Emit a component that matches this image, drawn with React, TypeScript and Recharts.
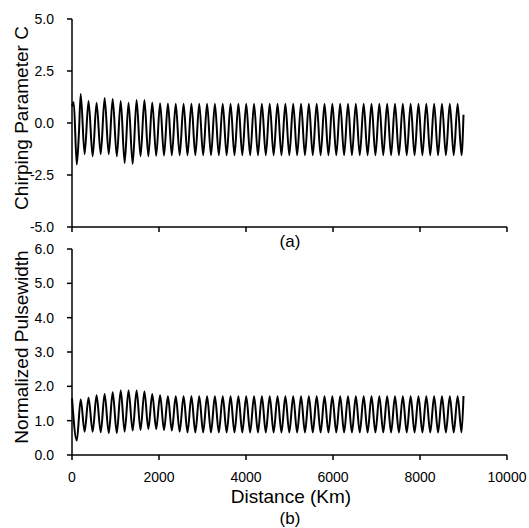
import { Line, LineChart, ReferenceLine, XAxis, YAxis } from 'recharts'

// distance (km) of each crest and each dip of the oscillation
const peakKm = [
    200, 380, 565, 750, 935, 1120, 1300, 1485, 1665, 1845,
    2025, 2205, 2385, 2565, 2745, 2925, 3105, 3285, 3465, 3645,
    3825, 4005, 4185, 4365, 4545, 4725, 4905, 5085, 5265, 5445,
    5625, 5805, 5985, 6165, 6345, 6525, 6705, 6885, 7065, 7245,
    7425, 7605, 7785, 7965, 8145, 8325, 8505, 8685, 8865
]
const troughKm = [
    110, 290, 475, 660, 845, 1030, 1210, 1395, 1575, 1755,
    1935, 2115, 2295, 2475, 2655, 2835, 3015, 3195, 3375, 3555,
    3735, 3915, 4095, 4275, 4455, 4635, 4815, 4995, 5175, 5355,
    5535, 5715, 5895, 6075, 6255, 6435, 6615, 6795, 6975, 7155,
    7335, 7515, 7695, 7875, 8055, 8235, 8415, 8595, 8775, 8955
]

// (a) chirping parameter C
const chirpPeaks = [
    1.40, 1.06, 0.97, 1.20, 1.15, 1.06, 0.97, 1.10, 1.10, 0.98,
    0.95, 0.94, 0.93, 0.93, 0.93, 0.93, 0.93, 0.93, 0.93, 0.93,
    0.93, 0.93, 0.93, 0.93, 0.93, 0.93, 0.93, 0.93, 0.93, 0.93,
    0.93, 0.93, 0.93, 0.93, 0.93, 0.93, 0.93, 0.93, 0.93, 0.93,
    0.93, 0.93, 0.93, 0.93, 0.93, 0.93, 0.93, 0.93, 0.93
]
const chirpTroughs = [
    -2.00, -1.50, -1.60, -1.50, -1.50, -1.60, -1.92, -1.97, -1.60, -1.60,
    -1.58, -1.56, -1.55, -1.55, -1.55, -1.55, -1.55, -1.55, -1.55, -1.55,
    -1.55, -1.55, -1.55, -1.55, -1.55, -1.55, -1.55, -1.55, -1.55, -1.55,
    -1.55, -1.55, -1.55, -1.55, -1.55, -1.55, -1.55, -1.55, -1.55, -1.55,
    -1.55, -1.55, -1.55, -1.55, -1.55, -1.55, -1.55, -1.55, -1.55, -1.55
]
const chirpExtraKm = [0, 40, 160, 9000]
const chirpExtra = [0.8, 1.0, -0.45, 0.4]

// (b) normalized pulsewidth
const widthPeaks = [
    1.62, 1.67, 1.74, 1.78, 1.83, 1.88, 1.88, 1.88, 1.85, 1.78,
    1.74, 1.71, 1.71, 1.71, 1.71, 1.71, 1.71, 1.71, 1.71, 1.71,
    1.71, 1.71, 1.71, 1.71, 1.71, 1.71, 1.71, 1.71, 1.71, 1.71,
    1.71, 1.71, 1.71, 1.71, 1.71, 1.71, 1.71, 1.71, 1.71, 1.71,
    1.71, 1.71, 1.71, 1.71, 1.71, 1.71, 1.71, 1.71, 1.71
]
const widthTroughs = [
    0.42, 0.68, 0.68, 0.66, 0.64, 0.64, 0.68, 0.71, 0.73, 0.76,
    0.76, 0.73, 0.71, 0.68, 0.66, 0.66, 0.66, 0.66, 0.66, 0.66,
    0.66, 0.66, 0.66, 0.66, 0.66, 0.66, 0.66, 0.66, 0.66, 0.66,
    0.66, 0.66, 0.66, 0.66, 0.66, 0.66, 0.66, 0.66, 0.66, 0.66,
    0.66, 0.66, 0.66, 0.66, 0.66, 0.66, 0.66, 0.66, 0.66, 0.66
]
const widthExtraKm = [0, 9000]
const widthExtra = [1.65, 1.72]

const distanceTicks = [0, 2000, 4000, 6000, 8000, 10000]
const chirpTicks = [-5, -2.5, 0, 2.5, 5]
const widthTicks = [0, 1, 2, 3, 4, 5, 6]

function buildRows(
    peaks: number[],
    troughs: number[],
    extraKm: number[],
    extra: number[]
) {
    const rows = [
        ...peakKm.map((km, i) => ({ km, v: peaks[i] })),
        ...troughKm.map((km, i) => ({ km, v: troughs[i] })),
        ...extraKm.map((km, i) => ({ km, v: extra[i] }))
    ]
    return rows.sort((a, b) => a.km - b.km)
}

const chirpData = buildRows(chirpPeaks, chirpTroughs, chirpExtraKm, chirpExtra)
const widthData = buildRows(widthPeaks, widthTroughs, widthExtraKm, widthExtra)

const font = '"Liberation Sans", Arial, sans-serif'
const axisStyle = { stroke: '#000', strokeWidth: 1.5 }
const tickStyle = { fill: '#000', fontSize: 14, fontFamily: font }

export default function App() {
    return (
        <div style={{ position: 'absolute', left: 0, top: 0, width: 529, height: 528, background: '#fff' }}>
            <div style={{ position: 'absolute', left: 0, top: 240 }}>
                <LineChart width={529} height={288} data={widthData} margin={{ top: 9, right: 22, bottom: 0, left: 0 }}>
                    <XAxis
                        dataKey="km"
                        type="number"
                        domain={[0, 10000]}
                        ticks={distanceTicks}
                        interval={0}
                        height={73}
                        tickSize={5}
                        tickMargin={12}
                        tick={tickStyle}
                        axisLine={axisStyle}
                        tickLine={axisStyle}
                    />
                    <YAxis
                        type="number"
                        domain={[0, 6]}
                        ticks={widthTicks}
                        interval={0}
                        width={72}
                        tickSize={5}
                        tickMargin={13}
                        tick={tickStyle}
                        tickFormatter={(v: number) => v.toFixed(1)}
                        axisLine={axisStyle}
                        tickLine={axisStyle}
                    />
                    <Line type="monotone" dataKey="v" stroke="#000" strokeWidth={2} dot={false} isAnimationActive={false} />
                </LineChart>
            </div>
            <div style={{ position: 'absolute', left: 0, top: 0 }}>
                <LineChart width={529} height={257} data={chirpData} margin={{ top: 19, right: 22, bottom: 0, left: 0 }}>
                    <XAxis
                        dataKey="km"
                        type="number"
                        domain={[0, 10000]}
                        ticks={distanceTicks}
                        interval={0}
                        height={30}
                        tick={false}
                        tickSize={5}
                        axisLine={axisStyle}
                        tickLine={axisStyle}
                    />
                    <YAxis
                        type="number"
                        domain={[-5, 5]}
                        allowDataOverflow
                        ticks={chirpTicks}
                        interval={0}
                        width={72}
                        tickSize={5}
                        tickMargin={13}
                        tick={tickStyle}
                        tickFormatter={(v: number) => v.toFixed(1)}
                        axisLine={axisStyle}
                        tickLine={axisStyle}
                    />
                    {/* tick marks under the x axis of panel (a), which has no tick numbers */}
                    {distanceTicks.map((t) => (
                        <ReferenceLine
                            key={t}
                            segment={[{ x: t, y: -5 }, { x: t, y: -5.24 }]}
                            ifOverflow="visible"
                            stroke="#000"
                            strokeWidth={1.5}
                        />
                    ))}
                    <Line type="monotone" dataKey="v" stroke="#000" strokeWidth={2} dot={false} isAnimationActive={false} />
                </LineChart>
            </div>
            <svg width={529} height={528} style={{ position: 'absolute', left: 0, top: 0, pointerEvents: 'none' }}>
                <g fontFamily={font} fill="#000">
                    <text x={28} y={118} fontSize={19} textAnchor="middle" transform="rotate(-90 28 118)">
                        Chirping Parameter C
                    </text>
                    <text x={28} y={347} fontSize={19} textAnchor="middle" transform="rotate(-90 28 347)">
                        Normalized Pulsewidth
                    </text>
                    <text x={290} y={247} fontSize={17} textAnchor="middle">(a)</text>
                    <text x={291} y={503} fontSize={19} textAnchor="middle">Distance (Km)</text>
                    <text x={290} y={524} fontSize={17} textAnchor="middle">(b)</text>
                </g>
            </svg>
        </div>
    )
}
